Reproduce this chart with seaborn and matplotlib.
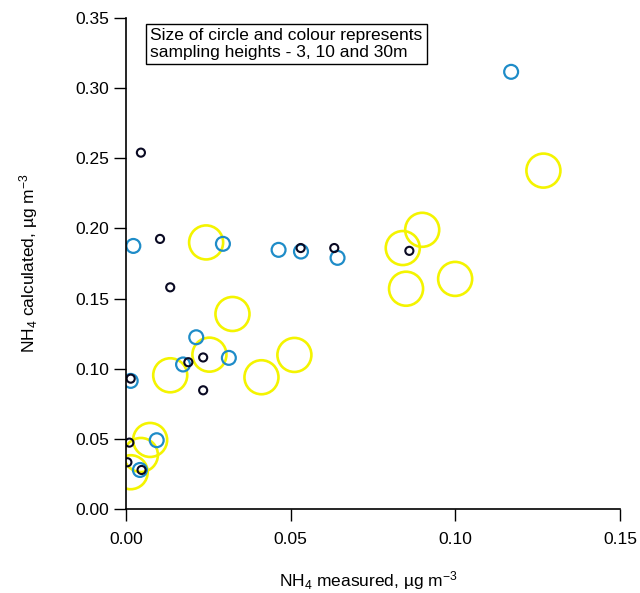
import pandas as pd
import matplotlib.pyplot as plt
import seaborn as sns

# NH4 measured vs calculated, three sampling heights
x_3m = [0.0045, 0.0103, 0.0134, 0.0530, 0.0632, 0.0860, 0.0234, 0.0189, 0.0014,
        0.0234, 0.0010, 0.0004, 0.0047]
y_3m = [0.254, 0.1925, 0.158, 0.186, 0.186, 0.184, 0.108, 0.1046, 0.0929,
        0.0846, 0.0473, 0.0333, 0.0278]

x_10m = [0.1169, 0.0022, 0.0294, 0.0463, 0.0531, 0.0642, 0.0213, 0.0312, 0.0173,
         0.0014, 0.0093, 0.0042]
y_10m = [0.3116, 0.1875, 0.189, 0.1847, 0.1835, 0.179, 0.1224, 0.1077, 0.103,
         0.0913, 0.049, 0.0278]

x_30m = [0.1267, 0.0899, 0.0840, 0.0850, 0.0999, 0.0243, 0.0323, 0.0253, 0.0134,
         0.0411, 0.0511, 0.0073, 0.0045, 0.0014]
y_30m = [0.2412, 0.199, 0.186, 0.157, 0.164, 0.190, 0.139, 0.110, 0.0953,
         0.0939, 0.1098, 0.0492, 0.0385, 0.0262]

xticks = [0, 0.05, 0.10, 0.15]
yticks = [0, 0.05, 0.10, 0.15, 0.20, 0.25, 0.30, 0.35]

heights = ["30m", "10m", "3m"]
colours = {"30m": "#f4f400", "10m": "#1e8cc8", "3m": "#0a0a23"}
sizes = {"30m": 600, "10m": 100, "3m": 34}
widths = {"30m": 1.9, "10m": 1.6, "3m": 1.5}

df = pd.concat([
    pd.DataFrame({"measured": x_30m, "calculated": y_30m, "height": "30m"}),
    pd.DataFrame({"measured": x_10m, "calculated": y_10m, "height": "10m"}),
    pd.DataFrame({"measured": x_3m, "calculated": y_3m, "height": "3m"}),
])

sns.set_style("ticks")
plt.rcParams['font.family'] = ['Liberation Sans', 'DejaVu Sans']
plt.rcParams['mathtext.fontset'] = 'custom'
plt.rcParams['mathtext.rm'] = 'Liberation Sans'
plt.rcParams['mathtext.it'] = 'Liberation Sans:italic'
plt.rcParams['text.color'] = 'black'
plt.rcParams['axes.labelcolor'] = 'black'

fig = plt.figure(figsize=(6.4, 5.93), dpi=100)
ax = fig.add_axes([0.197, 0.1417, 0.772, 0.828])

for h in heights:
    sub = df[df["height"] == h]
    sns.scatterplot(data=sub, x="measured", y="calculated", ax=ax,
                    s=sizes[h], marker="o", legend=False)
    coll = ax.collections[-1]
    coll.set_facecolor("none")
    coll.set_edgecolor(colours[h])
    coll.set_linewidth(widths[h])

ax.set_xlim(0, 0.15)
ax.set_ylim(0, 0.35)
ax.set_xticks(xticks)
ax.set_xticklabels([f"{v:.2f}" for v in xticks])
ax.set_yticks(yticks)
ax.set_yticklabels([f"{v:.2f}" for v in yticks])
ax.tick_params(direction="out", length=8.5, width=1, labelsize=12.5, colors="black")
ax.tick_params(axis="x", pad=8)
ax.tick_params(axis="y", pad=3.5)

for s in ["top", "right"]:
    ax.spines[s].set_visible(False)
for s in ["left", "bottom"]:
    ax.spines[s].set_color("black")
    ax.spines[s].set_linewidth(1.2)

ax.set_xlabel("NH$_4$ measured, µg m$^{-3}$", fontsize=12.5)
ax.set_ylabel("NH$_4$ calculated, µg m$^{-3}$", fontsize=12.5)
ax.xaxis.label.set_va("center")
ax.yaxis.label.set_va("center")
ax.xaxis.set_label_coords(0.49, -0.145)
ax.yaxis.set_label_coords(-0.198, 0.5)

ax.text(0.049, 0.979,
        "Size of circle and colour represents\nsampling heights - 3, 10 and 30m",
        transform=ax.transAxes, fontsize=12.5, va="top", ha="left", linespacing=1.15,
        bbox=dict(boxstyle="square,pad=0.25", fc="white", ec="black", lw=1))

plt.savefig("out.png", dpi=100)
